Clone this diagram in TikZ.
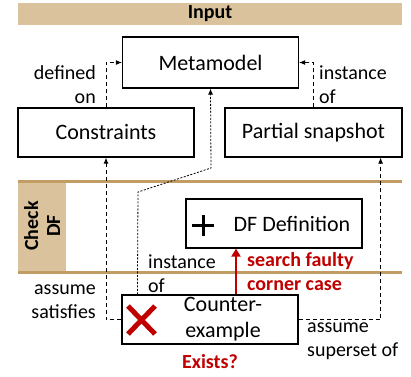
\documentclass[tikz,border=0pt]{standalone}
\usepackage{fontspec}
\setmainfont{Carlito}
\usetikzlibrary{positioning}
\usetikzlibrary{arrows.meta}
\definecolor{tanfill}{HTML}{D9C29C}
\definecolor{tanline}{HTML}{C19C65}
\definecolor{darkred}{HTML}{C00000}

\begin{document}
\begin{tikzpicture}[x=1pt,y=-1pt,
 box/.style={draw,line width=1.2pt,minimum width=176pt,minimum height=49pt,inner sep=0pt,font=\fontsize{22}{26}\selectfont},
 dep/.style={dashed,dash pattern=on 4pt off 3pt,line width=0.9pt,-{Latex[length=6pt,width=5pt]}},
 inst/.style={dash pattern=on 2pt off 1.5pt,line width=0.8pt,-{Latex[length=6pt,width=5pt]}},
 search/.style={darkred,line width=2.6pt,-{Triangle[length=8pt,width=9pt]}},
 lbl/.style={font=\fontsize{20}{24}\selectfont,inner sep=0pt},
 redlbl/.style={lbl,text=darkred,font=\fontsize{20}{24}\selectfont\bfseries}]
 \useasboundingbox (0,0) rectangle (411,376);
 % input area
 \node[fill=tanfill,minimum width=384pt,minimum height=22pt,inner sep=0pt,font=\fontsize{20}{24}\selectfont\bfseries] (input) at (210,14) {Input};
 \node[box,minimum height=51pt] (meta) at (210.5,62.5) {Metamodel};
 \node[box] (cons) at (106,132.5) {Constraints};
 \node[box,minimum width=177pt] (snap) at (313.5,132.5) {Partial snapshot};
 % check DF area
 \fill[tanfill] (18,181) rectangle (66,272);
 \draw[tanline,line width=3pt] (18,181) -- (402,181);
 \draw[tanline,line width=3pt] (18,272) -- (402,272);
 \node[rotate=90,align=center,inner sep=0pt,font=\fontsize{20}{22}\selectfont\bfseries] (check) at (42,226) {Check\\DF};
 \node[box] (dfdef) at (274,223.5) {\hspace*{36pt}DF Definition};
 \draw[line width=3pt] (192,225.5) -- (214,225.5) (203,215) -- (203,236);
 \node[box,align=center] (counter) at (210,319.5) {\hspace*{26pt}Counter-\\\hspace*{26pt}example};
 \draw[darkred,line width=5pt] (128,306) -- (155,334) (128,334) -- (155,306);
 % connectors
 \draw[dep] (cons.north) |- (meta.west);
 \draw[dep] (snap.north) |- (meta.east);
 \draw[dep] (counter.west) -| (cons.south);
 \draw[dep] (counter.east) -| ([xshift=-22pt]snap.south east);
 \draw[inst] ([xshift=16pt]counter.north west) -- (138,192) -- (211,168) -- (meta.south);
 \draw[search] ([xshift=26pt]counter.north) -- ([xshift=26pt]counter.north |- dfdef.south);
 % labels
 \node[lbl,anchor=east,align=right] (defon) at (96,85) {defined\\on};
 \node[lbl,anchor=west,align=left] (instof) at (319,85) {instance\\of};
 \node[lbl,anchor=west,align=left] (cinst) at (148,274) {instance\\of};
 \node[lbl,anchor=east,align=right] (assat) at (96,302) {assume\\satisfies};
 \node[lbl,anchor=west,align=left] (assup) at (307,341) {assume\\superset of};
 \node[redlbl,anchor=west,align=left] (fault) at (247,272) {search faulty\\corner case};
 \node[redlbl] (exists) at (210,362) {Exists?};
\end{tikzpicture}
\end{document}
